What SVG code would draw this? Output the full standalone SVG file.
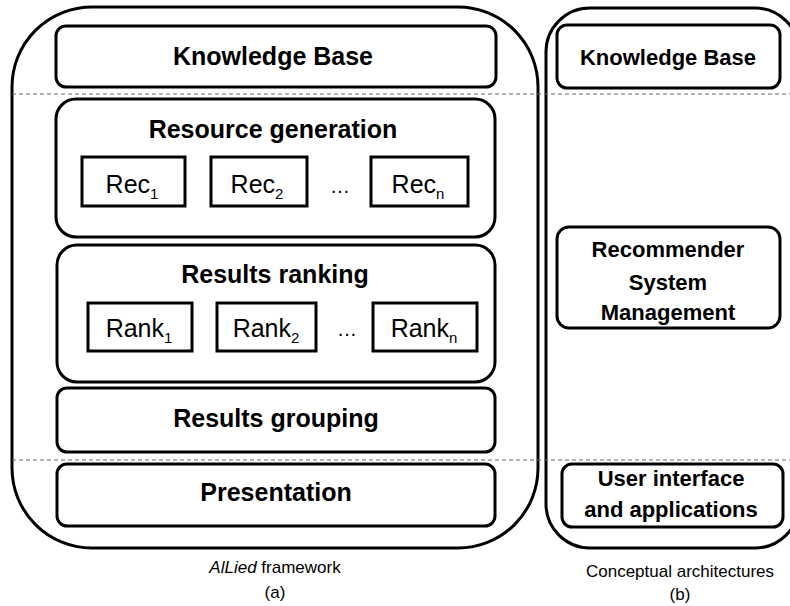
<svg xmlns="http://www.w3.org/2000/svg" width="790" height="606" viewBox="0 0 790 606">
<style>
.frame{fill:none;stroke:#000;stroke-width:3}
.box{fill:#fff;stroke:#000;stroke-width:3}
.dash{stroke:#666;stroke-width:1;stroke-dasharray:4 3}
.h{font-family:"Liberation Sans",Arial,sans-serif;font-weight:bold;font-size:25px;text-anchor:middle;fill:#000}
.h2{font-family:"Liberation Sans",Arial,sans-serif;font-weight:bold;font-size:22px;text-anchor:middle;fill:#000}
.r{font-family:"Liberation Sans",Arial,sans-serif;font-size:25px;text-anchor:middle;fill:#000}
.sub{font-size:15px}
.dots{font-family:"Liberation Sans",Arial,sans-serif;font-size:20px;text-anchor:middle;fill:#000}
.cap{font-family:"Liberation Sans",Arial,sans-serif;font-size:17px;text-anchor:middle;fill:#000}
</style>
<rect width="790" height="606" fill="#fff"/>
<g id="frame-a"><rect class="frame" x="12" y="7" width="526" height="541" rx="80" ry="80"/></g>
<g id="frame-b"><rect class="frame" x="546" y="8" width="253" height="540" rx="44" ry="44"/></g>
<g id="connectors">
<line class="dash" x1="12" y1="94" x2="790" y2="94"/>
<line class="dash" x1="12" y1="460" x2="790" y2="460"/>
</g>
<g id="kb-a"><rect class="box" x="56" y="26" width="440" height="61" rx="10"/><text class="h" x="273" y="65">Knowledge Base</text></g>
<g id="resgen"><rect class="box" x="56" y="99" width="439" height="138" rx="20"/><text class="h" x="273" y="138">Resource generation</text></g>
<g id="rec1"><rect class="box" x="82" y="157" width="103" height="49"/><text class="r" x="132" y="193">Rec<tspan class="sub" dy="6">1</tspan></text></g>
<g id="rec2"><rect class="box" x="211" y="157" width="96" height="49"/><text class="r" x="257" y="193">Rec<tspan class="sub" dy="6">2</tspan></text></g>
<text class="dots" x="340" y="193">…</text>
<g id="recn"><rect class="box" x="371" y="157" width="97" height="49"/><text class="r" x="418" y="193">Rec<tspan class="sub" dy="6">n</tspan></text></g>
<g id="ranking"><rect class="box" x="57" y="245" width="438" height="137" rx="20"/><text class="h" x="275" y="283">Results ranking</text></g>
<g id="rank1"><rect class="box" x="88" y="303" width="104" height="48"/><text class="r" x="139" y="337">Rank<tspan class="sub" dy="6">1</tspan></text></g>
<g id="rank2"><rect class="box" x="217" y="303" width="99" height="48"/><text class="r" x="266" y="337">Rank<tspan class="sub" dy="6">2</tspan></text></g>
<text class="dots" x="347" y="336">…</text>
<g id="rankn"><rect class="box" x="373" y="303" width="104" height="48"/><text class="r" x="424" y="337">Rank<tspan class="sub" dy="6">n</tspan></text></g>
<g id="grouping"><rect class="box" x="57" y="388" width="438" height="64" rx="10"/><text class="h" x="276" y="427">Results grouping</text></g>
<g id="presentation"><rect class="box" x="57" y="464" width="438" height="62" rx="10"/><text class="h" x="276" y="501">Presentation</text></g>
<g id="kb-b"><rect class="box" x="557" y="25" width="223" height="63" rx="10"/><text class="h2" x="668" y="65">Knowledge Base</text></g>
<g id="rsm"><rect class="box" x="557" y="227" width="223" height="101" rx="12"/><text class="h2" x="668" y="257">Recommender</text><text class="h2" x="668" y="290">System</text><text class="h2" x="668" y="320">Management</text></g>
<g id="ui"><rect class="box" x="562" y="464" width="221" height="63" rx="10"/><text class="h2" x="671" y="486">User interface</text><text class="h2" x="671" y="517">and applications</text></g>
<text class="cap" x="275" y="573"><tspan font-style="italic">AlLied</tspan> framework</text>
<text class="cap" x="275" y="598">(a)</text>
<text class="cap" x="680" y="577">Conceptual architectures</text>
<text class="cap" x="680" y="600">(b)</text>
</svg>
